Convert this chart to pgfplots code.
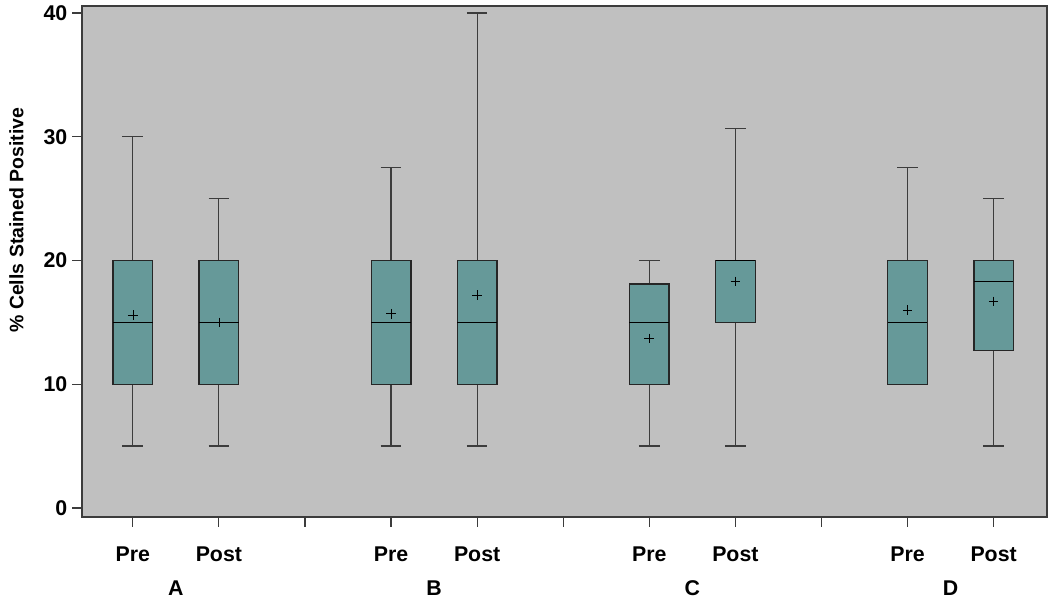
\documentclass[border=0pt]{standalone}
\usepackage{pgfplots}
\pgfplotsset{compat=1.18}
\usepgfplotslibrary{statistics}
\usepackage{fontspec}
\setmainfont{Liberation Sans}
\definecolor{boxfill}{RGB}{102,153,153}
\definecolor{panel}{RGB}{192,192,192}
\definecolor{whisk}{RGB}{60,60,60}

\begin{document}
\begin{tikzpicture}
\begin{axis}[
  name=ax,
  scale only axis, width=723.75pt, height=383.25pt,
  xmin=0.41, xmax=11.62, ymin=-0.73, ymax=40.57,
  axis background/.style={fill=panel},
  axis line style={draw=whisk, line width=1pt},
  tick pos=left, tick align=outside, major tick length=7.5pt,
  tick style={draw=whisk, line width=0.9pt},
  xtick={1,...,11},
  xticklabels={Pre,Post,,Pre,Post,,Pre,Post,,Pre,Post},
  ytick={0,10,20,30,40},
  /pgf/number format/assume math mode=true,
  ticklabel style={font=\fontsize{16}{18}\selectfont\bfseries},
  xticklabel style={yshift=-11pt},
  ylabel={\% Cells Stained Positive},
  ylabel style={font=\fontsize{14.6}{17}\selectfont\bfseries,
    at={(axis description cs:-0.0679,0.581)}, anchor=center},
  clip=false,
  boxplot/draw direction=y,
  boxplot/box extend=0.46,
  boxplot/whisker extend=0.24,
  boxplot/every box/.style={draw=black!85, fill=boxfill, line width=1pt},
  boxplot/every whisker/.style={draw=whisk, line width=0.9pt},
  boxplot/every median/.style={draw=black, line width=1pt},
  boxplot/every average/.style={/tikz/mark=+, mark size=3.6pt, draw=black, line width=0.8pt},
]
% A
\addplot[boxplot prepared={draw position=1, lower whisker=5, lower quartile=10,
  median=15, upper quartile=20, upper whisker=30, average=15.6}] coordinates {};
\addplot[boxplot prepared={draw position=2, lower whisker=5, lower quartile=10,
  median=15, upper quartile=20, upper whisker=25, average=15.0}] coordinates {};
% B
\addplot[boxplot prepared={draw position=4, lower whisker=5, lower quartile=10,
  median=15, upper quartile=20, upper whisker=27.5, average=15.7}] coordinates {};
\addplot[boxplot prepared={draw position=5, lower whisker=5, lower quartile=10,
  median=15, upper quartile=20, upper whisker=40, average=17.2}] coordinates {};
% C
\addplot[boxplot prepared={draw position=7, lower whisker=5, lower quartile=10,
  median=15, upper quartile=18.1, upper whisker=20, average=13.7}] coordinates {};
\addplot[boxplot prepared={draw position=8, lower whisker=5, lower quartile=15,
  median=20, upper quartile=20, upper whisker=30.7, average=18.3}] coordinates {};
% D
\addplot[boxplot prepared={draw position=10, lower whisker=10, lower quartile=10,
  median=15, upper quartile=20, upper whisker=27.5, average=16.0}] coordinates {};
\addplot[boxplot prepared={draw position=11, lower whisker=5, lower quartile=12.7,
  median=18.3, upper quartile=20, upper whisker=25, average=16.7}] coordinates {};

\foreach \g/\lab in {1.5/A,4.5/B,7.5/C,10.5/D}{
  \edef\tmp{\noexpand\node[font=\noexpand\fontsize{16}{18}\noexpand\selectfont\noexpand\bfseries]
    at (axis cs:\g,-6.47) {\lab};}
  \tmp
}
\end{axis}
\pgfresetboundingbox
\path ([xshift=-61.5pt,yshift=-63.75pt]ax.south west) rectangle ([xshift=2.25pt,yshift=4.5pt]ax.north east);
\end{tikzpicture}
\end{document}
